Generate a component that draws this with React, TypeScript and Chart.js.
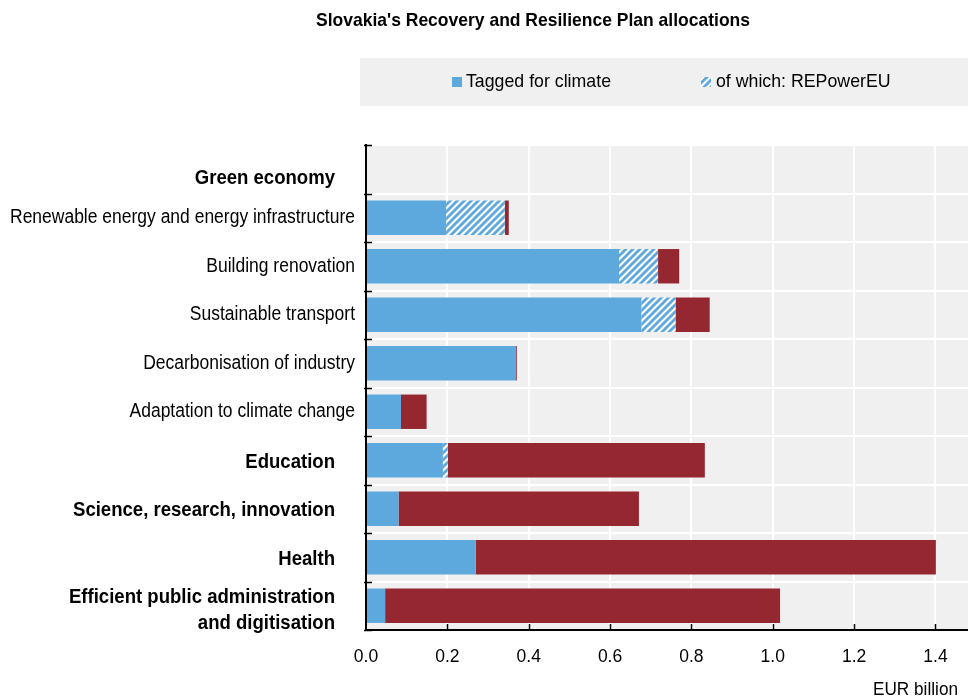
import React, { useEffect, useRef } from "react";
import { Chart, registerables } from "chart.js";

Chart.register(...registerables);

// ---------- data ----------
const categories: (string | string[])[] = [
  "Green economy",
  "Renewable energy and energy infrastructure",
  "Building renovation",
  "Sustainable transport",
  "Decarbonisation of industry",
  "Adaptation to climate change",
  "Education",
  "Science, research, innovation",
  "Health",
  ["Efficient public administration", "and digitisation"],
];
const boldCategory = [true, false, false, false, false, false, true, true, true, true];
const taggedClimate = [null, 0.197, 0.622, 0.677, 0.369, 0.086, 0.189, 0.08, 0.27, 0.047];
const repowerEU = [null, 0.144, 0.096, 0.084, 0, 0, 0.012, 0, 0, 0];
const notTagged = [null, 0.01, 0.052, 0.084, 0.002, 0.063, 0.632, 0.591, 1.131, 0.971];
const xTickValues = [0, 0.2, 0.4, 0.6, 0.8, 1.0, 1.2, 1.4];
const xMax = 1.48;
const seriesNames = ["Tagged for climate", "of which: REPowerEU", "Not tagged for climate"];
const chartTitle = "Slovakia's Recovery and Resilience Plan allocations";
const xAxisTitle = "EUR billion";

// ---------- styles ----------
const BLUE = "#5DA9DD";
const RED = "#952731";
const BG = "#F0F0F0";

function pickFamily(): { family: string; narrow: boolean } {
  const ctx = document.createElement("canvas").getContext("2d")!;
  const s = "Renewable energy and energy infrastructure 0123";
  const w = (f: string) => {
    ctx.font = f;
    return ctx.measureText(s).width;
  };
  const mono = w("20px monospace");
  const serif = w("20px serif");
  const cands = ["Liberation Sans Narrow", "Arial Narrow", "Liberation Sans", "Arial"];
  for (let i = 0; i < cands.length; i++) {
    const fam = cands[i];
    if (w(`20px "${fam}", monospace`) !== mono && w(`20px "${fam}", serif`) !== serif) {
      return { family: `"${fam}", sans-serif`, narrow: i < 2 };
    }
  }
  return { family: "sans-serif", narrow: false };
}

function measure(text: string, weight: string, size: number, family: string): number {
  const ctx = document.createElement("canvas").getContext("2d")!;
  ctx.font = `${weight} ${size}px ${family}`;
  return ctx.measureText(text).width;
}

type TextStyle = { weight: string; size: number; sx: number };

function styleFor(sample: string, weight: string, size: number, family: string, target: number): TextStyle {
  return { weight, size, sx: target / measure(sample, weight, size, family) };
}

function makeHatch(): CanvasPattern | string {
  const s = 7;
  const c = document.createElement("canvas");
  c.width = s;
  c.height = s;
  const g = c.getContext("2d")!;
  g.fillStyle = "#FFFFFF";
  g.fillRect(0, 0, s, s);
  g.strokeStyle = BLUE;
  g.lineWidth = 2.8;
  g.beginPath();
  g.moveTo(0, s);
  g.lineTo(s, 0);
  g.moveTo(-2, 2);
  g.lineTo(2, -2);
  g.moveTo(s - 2, s + 2);
  g.lineTo(s + 2, s - 2);
  g.stroke();
  const p = g.createPattern(c, "repeat");
  return p || BLUE;
}

export default function App() {
  const ref = useRef<HTMLCanvasElement | null>(null);

  useEffect(() => {
    const canvas = ref.current;
    if (!canvas) return;
    const { family } = pickFamily();
    const stNormal = styleFor("Renewable energy and energy infrastructure", "normal", 20, family, 345);
    const stBold = styleFor("Science, research, innovation", "bold", 20, family, 262);
    const stTitle = styleFor(chartTitle, "bold", 19, family, 434);
    const stLegend = styleFor(seriesNames[0], "normal", 19, family, 145);
    const stAxis = styleFor(xAxisTitle, "normal", 19, family, 85);
    const tickSize = 17.5;
    const hatch = makeHatch();

    const drawText = (
      ctx: CanvasRenderingContext2D,
      text: string,
      x: number,
      y: number,
      align: "left" | "right" | "center",
      st: TextStyle
    ) => {
      ctx.save();
      ctx.font = `${st.weight} ${st.size}px ${family}`;
      ctx.textAlign = align;
      ctx.textBaseline = "middle";
      ctx.translate(x, y);
      ctx.scale(st.sx, 1);
      ctx.fillText(text, 0, 0);
      ctx.restore();
    };

    const decor = {
      id: "decor",
      beforeDraw(chart: any) {
        const { ctx, chartArea: a } = chart;
        ctx.save();
        ctx.fillStyle = BG;
        ctx.fillRect(a.left, a.top, a.right - a.left, a.bottom - a.top);
        ctx.fillRect(360, 58, 608, 48);
        ctx.restore();
      },
      afterDraw(chart: any) {
        const { ctx, chartArea: a } = chart;
        const ys = chart.scales.y;
        const xs = chart.scales.x;
        ctx.save();
        ctx.fillStyle = "#000";

        // title
        drawText(ctx, chartTitle, 533, 21, "center", stTitle);

        // legend
        ctx.fillStyle = BLUE;
        ctx.fillRect(452, 77, 10, 10);
        ctx.fillStyle = hatch as any;
        ctx.fillRect(701, 77, 10, 10);
        ctx.fillStyle = "#000";
        drawText(ctx, seriesNames[0], 466, 82, "left", stLegend);
        drawText(ctx, seriesNames[1], 716, 82, "left", stLegend);

        // y category labels
        categories.forEach((lab, i) => {
          const bold = boldCategory[i];
          const header = taggedClimate[i] === null;
          const lines = Array.isArray(lab) ? lab : [lab];
          const st = bold ? stBold : stNormal;
          const cy = ys.getPixelForValue(i) + (header ? 9 : bold ? (lines.length > 1 ? 5 : 2) : 0);
          const gap = 26;
          const x = bold ? 335 : 355;
          lines.forEach((ln, k) => {
            drawText(ctx, ln, x, cy + (k - (lines.length - 1) / 2) * gap, "right", st);
          });
        });

        // inside tick marks
        ctx.strokeStyle = "#000";
        ctx.lineWidth = 1.5;
        const half = (ys.getPixelForValue(1) - ys.getPixelForValue(0)) / 2;
        ctx.beginPath();
        for (let i = 0; i <= categories.length; i++) {
          const by = Math.round(ys.getPixelForValue(0) - half + i * 2 * half) + 0.5;
          ctx.moveTo(a.left - 2, by);
          ctx.lineTo(a.left + 6, by);
        }
        xTickValues.forEach((v) => {
          if (v === 0) return;
          const px = Math.round(xs.getPixelForValue(v)) + 0.5;
          ctx.moveTo(px, a.bottom);
          ctx.lineTo(px, a.bottom - 6);
        });
        ctx.stroke();

        // x axis title
        ctx.fillStyle = "#000";
        drawText(ctx, xAxisTitle, 958, 690, "right", stAxis);
        ctx.restore();
      },
    };

    const tickLH = 1.2;
    const chart = new Chart(canvas, {
      type: "bar",
      data: {
        labels: categories as any,
        datasets: [
          { label: seriesNames[0], data: taggedClimate as any, backgroundColor: BLUE, borderWidth: 0 },
          { label: seriesNames[1], data: repowerEU as any, backgroundColor: hatch as any, borderWidth: 0 },
          { label: seriesNames[2], data: notTagged as any, backgroundColor: RED, borderWidth: 0 },
        ],
      },
      options: {
        indexAxis: "y",
        animation: false,
        responsive: false,
        maintainAspectRatio: false,
        layout: { padding: { top: 145, right: 0, bottom: 0, left: 0 } },
        datasets: { bar: { barPercentage: 0.71, categoryPercentage: 1 } } as any,
        plugins: {
          legend: { display: false },
          title: { display: false },
          tooltip: { enabled: false },
        },
        scales: {
          x: {
            stacked: true,
            min: 0,
            max: xMax,
            afterBuildTicks: (s: any) => {
              s.ticks = xTickValues.map((v) => ({ value: v }));
            },
            afterFit: (s: any) => {
              s.height = 68;
            },
            ticks: {
              color: "#000",
              font: { family, size: tickSize, lineHeight: tickLH },
              padding: 27 - (tickSize * tickLH) / 2,
              maxRotation: 0,
              autoSkip: false,
              callback: (v: any) => Number(v).toFixed(1),
            },
            grid: { color: "#FFFFFF", lineWidth: 2, drawTicks: false },
            border: { color: "#000", width: 2 },
          },
          y: {
            stacked: true,
            afterFit: (s: any) => {
              s.width = 366;
            },
            ticks: { display: false },
            grid: { color: "#FFFFFF", lineWidth: 2, drawTicks: false, offset: true },
            border: { color: "#000", width: 2 },
          },
        },
      },
      plugins: [decor],
    });
    return () => chart.destroy();
  }, []);

  return (
    <div style={{ position: "fixed", left: 0, top: 0, width: 968, height: 698, background: "#fff" }}>
      <canvas ref={ref} width={968} height={698} style={{ display: "block", width: 968, height: 698 }} />
    </div>
  );
}
